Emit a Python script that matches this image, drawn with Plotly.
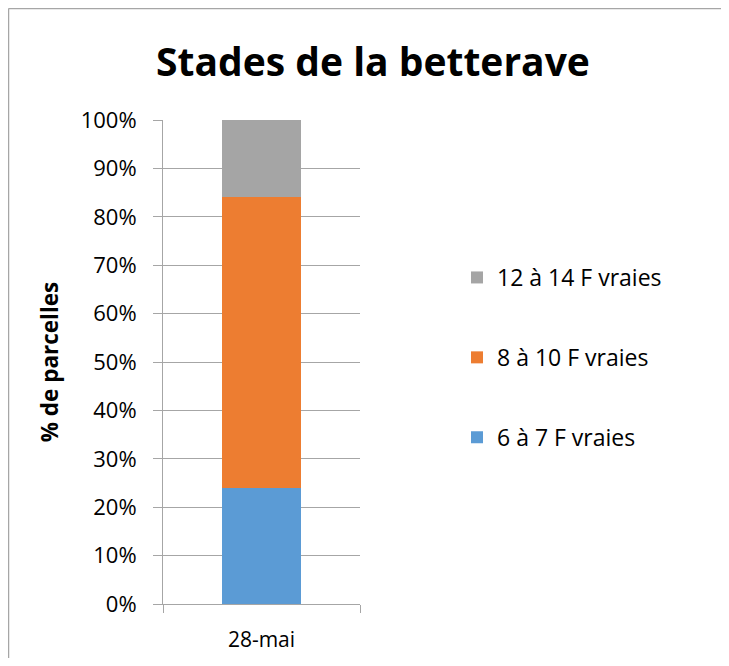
import plotly.graph_objects as go

categories = ["28-mai"]
series_names = ["6 à 7 F vraies", "8 à 10 F vraies", "12 à 14 F vraies"]
series_values = [[0.24], [0.60], [0.16]]
series_colors = ["#5B9BD5", "#ED7D31", "#A5A5A5"]
legend_ranks = [3, 2, 1]
y_tickvals = [i / 10 for i in range(11)]
y_ticktext = [f"{i*10}%" for i in range(11)]

FONT = "Open Sans"
GRID = "#A6A6A6"

fig = go.Figure()
for name, vals, col, rk in zip(series_names, series_values, series_colors, legend_ranks):
    fig.add_trace(go.Bar(x=categories, y=vals, name=name, marker_color=col,
                         marker_line_width=0, legendgroup=name, legendrank=rk))

# page has an 8px body margin: paper spans window x 8..721, y 8..658 (no scrollbars)
OFF = 8
W, H = 729 - 2 * OFF, 666 - 2 * OFF
L, R, T, B = 163 - OFF, 360 - OFF, 120 - OFF, 604 - OFF
PW, PH = R - L, B - T
fig.update_layout(
    width=W, height=H,
    margin=dict(l=L, r=W - R, t=T, b=H - B, pad=0, autoexpand=False),
    barmode="stack", bargap=0.594,
    paper_bgcolor="white", plot_bgcolor="white",
    font=dict(family=FONT, color="#000000"),
    title=dict(text="<b>Stades de la betterave</b>", font=dict(size=39, family=FONT),
               x=(373 - OFF) / W, xanchor="center", y=1 - (62 - OFF) / H, yanchor="middle"),
    showlegend=True,
    legend=dict(traceorder="grouped", tracegroupgap=47,
                font=dict(size=23, family=FONT),
                x=(457 - 163) / PW, xanchor="left",
                y=1 - (256 - 120) / PH, yanchor="top",
                bgcolor="rgba(0,0,0,0)"),
    xaxis=dict(showline=True, linecolor=GRID, linewidth=1, ticks="outside",
               tickson="boundaries", ticklen=8, tickcolor=GRID,
               tickfont=dict(size=21, family=FONT), ticklabelstandoff=17,
               showgrid=False, automargin=False),
    yaxis=dict(range=[0, 1], tickvals=y_tickvals, ticktext=y_ticktext,
               showline=True, linecolor=GRID, linewidth=1,
               ticks="outside", ticklen=9, tickcolor=GRID,
               showgrid=True, gridcolor=GRID, gridwidth=1, zeroline=False,
               tickfont=dict(size=22, family=FONT), ticklabelstandoff=12,
               automargin=False,
               title=dict(text="<b>% de parcelles</b>", font=dict(size=22.5, family=FONT),
                          standoff=15)),
)

# chart border (top and left edges visible)
bx = (0.5 - L) / PW
by = (B - 0.5) / PH
fig.add_shape(type="line", xref="paper", yref="paper", x0=bx, x1=(W - L) / PW,
              y0=by, y1=by, line=dict(color="#A6A6A6", width=1.5))
fig.add_shape(type="line", xref="paper", yref="paper", x0=bx, x1=bx,
              y0=by, y1=-(H - B) / PH, line=dict(color="#A6A6A6", width=1.5))

fig.write_html("out.html")
